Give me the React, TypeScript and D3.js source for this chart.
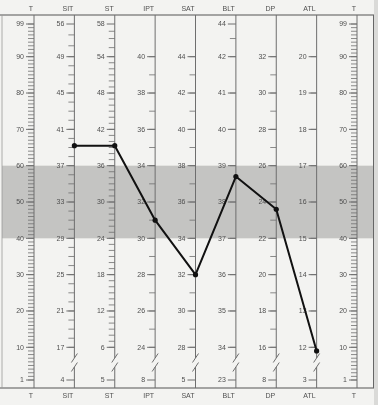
import React from "react";
import * as d3 from "d3";

// ---- data ----
const axes = ["T_L", "SIT", "ST", "IPT", "SAT", "BLT", "DP", "ATL", "T_R"];
const axisTitles = ["T", "SIT", "ST", "IPT", "SAT", "BLT", "DP", "ATL", "T"];
const labelLevels = [99, 90, 80, 70, 60, 50, 40, 30, 20, 10, 1];
const tLabels = ["99", "90", "80", "70", "60", "50", "40", "30", "20", "10", "1"];
const sitLabels = ["56", "49", "45", "41", "37", "33", "29", "25", "21", "17", "4"];
const stLabels = ["58", "54", "48", "42", "36", "30", "24", "18", "12", "6", "5"];
const iptLabels = ["", "40", "38", "36", "34", "32", "30", "28", "26", "24", "8"];
const satLabels = ["", "44", "42", "40", "38", "36", "34", "32", "30", "28", "5"];
const bltLabels = ["44", "42", "41", "40", "39", "38", "37", "36", "35", "34", "23"];
const dpLabels = ["", "32", "30", "28", "26", "24", "22", "20", "18", "16", "8"];
const atlLabels = ["", "20", "19", "18", "17", "16", "15", "14", "13", "12", "3"];
// raw units per 10 T (minor tick density between T=10 and T=90)
const rawPerTen = [10, 4, 6, 2, 2, 1, 2, 1, 10];
// extra minor ticks above T=90 (T positions)
const topMinor = [[], [96, 93], [97, 95, 92.5], [], [], [95], [], [], []];
const profileAxes = ["SIT", "ST", "IPT", "SAT", "BLT", "DP", "ATL"];
const profileT = [65.5, 65.5, 45, 30, 57, 48, 9];
const bandT = [40, 60];

const W = 378;
const H = 405;

export default function App() {
  const x = d3.scalePoint<string>().domain(axes).range([34, 357]);
  const y = d3.scaleLinear().domain([1, 99]).range([380, 24]);
  const top = 15;
  const bottom = 388;
  const allLabels = [tLabels, sitLabels, stLabels, iptLabels, satLabels, bltLabels, dpLabels, atlLabels, tLabels];
  const font = "'Liberation Sans', Arial, sans-serif";
  const gray = "#6e6e6e";
  const textFill = "#505050";

  const line = d3
    .line<number>()
    .x((_, i) => x(profileAxes[i]) as number)
    .y((d) => y(d));

  return (
    <svg
      width={W}
      height={H}
      style={{ position: "absolute", left: 0, top: 0, display: "block", willChange: "transform" }}
      fontFamily={font}
    >
      <rect x={0} y={0} width={W} height={H} fill="#f3f3f1" />
      <rect x={374} y={0} width={W - 374} height={H} fill="#dadad8" />
      {/* normal band */}
      <rect
        x={2}
        y={y(bandT[1])}
        width={371}
        height={y(bandT[0]) - y(bandT[1])}
        fill="#c4c4c2"
      />
      {/* frame */}
      <line x1={0} x2={374} y1={top} y2={top} stroke="#555" strokeWidth={1.2} />
      <line x1={0} x2={374} y1={bottom} y2={bottom} stroke="#555" strokeWidth={1.2} />
      <line x1={2} x2={2} y1={top} y2={bottom} stroke="#999" strokeWidth={0.8} />
      <line x1={373.5} x2={373.5} y1={top} y2={bottom} stroke="#666" strokeWidth={1} />

      {axes.map((a, ai) => {
        const ax = x(a) as number;
        const isT = ai === 0 || ai === axes.length - 1;
        const labels = allLabels[ai];
        const minors: number[] = [];
        if (isT) {
          for (let t = 1; t <= 99; t++) minors.push(t);
        } else {
          const step = 10 / rawPerTen[ai];
          for (let t = 10; t <= 90 + 1e-6; t += step) minors.push(t);
          topMinor[ai].forEach((t) => minors.push(t));
        }
        const breakA = 358;
        const breakB = 367;
        return (
          <g key={a}>
            {isT ? (
              <line x1={ax} x2={ax} y1={top} y2={bottom} stroke={gray} strokeWidth={1} />
            ) : (
              <g>
                <line x1={ax} x2={ax} y1={top} y2={breakA} stroke={gray} strokeWidth={1} />
                <line x1={ax} x2={ax} y1={breakB} y2={bottom} stroke={gray} strokeWidth={1} />
                <line x1={ax - 3} x2={ax + 3} y1={breakA + 4.5} y2={breakA - 4.5} stroke={gray} strokeWidth={1} />
                <line x1={ax - 3} x2={ax + 3} y1={breakB + 4.5} y2={breakB - 4.5} stroke={gray} strokeWidth={1} />
              </g>
            )}
            {minors.map((t, i) => (
              <line
                key={"m" + i}
                x1={ax - 6}
                x2={ax}
                y1={y(t)}
                y2={y(t)}
                stroke={gray}
                strokeWidth={0.8}
              />
            ))}
            {labelLevels.map((t, i) =>
              labels[i] === "" ? null : (
                <g key={"l" + i}>
                  <line x1={ax - 8} x2={ax} y1={y(t)} y2={y(t)} stroke={gray} strokeWidth={1} />
                  <text
                    x={ax - 10}
                    y={y(t)}
                    dy="0.35em"
                    textAnchor="end"
                    fontSize={7}
                    fill={textFill}
                  >
                    {labels[i]}
                  </text>
                </g>
              )
            )}
            <text x={ax - 1} y={11} textAnchor="end" fontSize={7} fill={textFill}>
              {axisTitles[ai]}
            </text>
            <text x={ax - 1} y={398} textAnchor="end" fontSize={7} fill={textFill}>
              {axisTitles[ai]}
            </text>
          </g>
        );
      })}

      <path d={line(profileT) || ""} fill="none" stroke="#111" strokeWidth={2} strokeLinejoin="round" />
      {profileT.map((t, i) => (
        <circle key={i} cx={x(profileAxes[i]) as number} cy={y(t)} r={2.6} fill="#111" />
      ))}
    </svg>
  );
}
